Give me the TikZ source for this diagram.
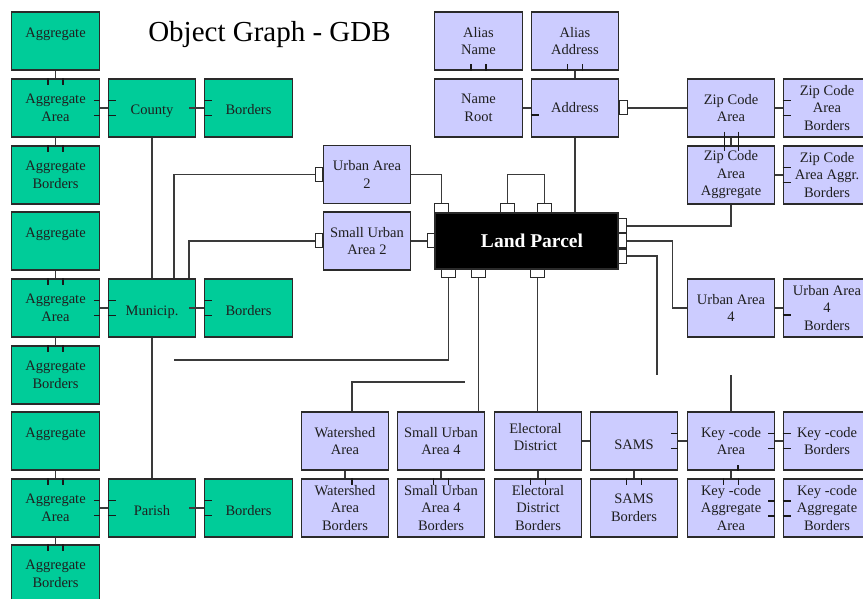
\documentclass[tikz,border=0pt]{standalone}
\usepackage{fontspec}
\setmainfont{Liberation Serif}
\usetikzlibrary{calc}
\definecolor{grn}{HTML}{00CC99}
\definecolor{lav}{HTML}{CCCCFF}
\definecolor{edge}{HTML}{2A2A2A}
\definecolor{wire}{HTML}{3A3A3A}
\tikzset{
  box/.style={draw=edge, line width=1.3pt, minimum width=87.5pt, minimum height=58pt,
    align=center, inner sep=0pt, text=black!88, font=\fontsize{14.5}{17.5}\selectfont},
  gbox/.style={box, fill=grn},
  lbox/.style={box, fill=lav},
  low/.style={text height=14pt, text depth=0pt},
  conn/.style={draw=wire, line width=1.2pt},
  tickst/.style={draw=black!90, line width=1.1pt},
  portst/.style={draw=edge, line width=1pt, fill=white},
}
\newcommand\vlnk[2]{%
  \draw[conn] (#1.south) -- (#2.north);
  \draw[tickst] ($(#2.north)+(-7.5,0)$) -- ++(0,7) ($(#2.north)+(7.5,0)$) -- ++(0,7);}
\newcommand\hlnk[2]{%
  \draw[conn] (#1.east) -- (#2.west);
  \draw[tickst] ($(#1.east)+(-6,-7.5)$) -- ++(6,0) ($(#1.east)+(-6,7.5)$) -- ++(6,0)
    ($(#2.west)+(0,-7.5)$) -- ++(8,0) ($(#2.west)+(0,7.5)$) -- ++(8,0);}
\newcommand\blnk[2]{%
  \draw[conn] ($(#1.east)+(-7,0)$) -- (#2.west);
  \draw[tickst] ($(#2.west)+(0,-7.5)$) -- ++(8,0) ($(#2.west)+(0,7.5)$) -- ++(8,0);}
\newcommand\portT[1]{\draw[portst] ($(#1)+(-7,-9)$) rectangle ($(#1)+(7,0)$);}
\newcommand\portB[1]{\draw[portst] ($(#1)+(-7,0)$) rectangle ($(#1)+(7,8)$);}
\newcommand\portL[1]{\draw[portst] ($(#1)+(-7,-7)$) rectangle ($(#1)+(0,7)$);}
\newcommand\portR[1]{\draw[portst] ($(#1)+(0,-7)$) rectangle ($(#1)+(8,7)$);}
\begin{document}
\begin{tikzpicture}[x=1pt,y=-1pt]
\useasboundingbox (0,0) rectangle (863,599);
\clip (0,0) rectangle (863,599);
\fill[white] (0,0) rectangle (863,599);

\node[font=\fontsize{29}{34}\selectfont, anchor=base, text=black] (title) at (269.5,42) {Object Graph - GDB};

% green column
\node[gbox] (ag1)  at (55.5,41)  {Aggregate\\\mbox{}};
\node[gbox] (ag1a) at (55.5,108) {Aggregate\\Area};
\node[gbox] (ag1b) at (55.5,175) {Aggregate\\Borders};
\node[gbox] (ag2)  at (55.5,241) {Aggregate\\\mbox{}};
\node[gbox] (ag2a) at (55.5,308) {Aggregate\\Area};
\node[gbox] (ag2b) at (55.5,375) {Aggregate\\Borders};
\node[gbox] (ag3)  at (55.5,441) {Aggregate\\\mbox{}};
\node[gbox] (ag3a) at (55.5,508) {Aggregate\\Area};
\node[gbox] (ag3b) at (55.5,574) {Aggregate\\Borders};
\node[gbox,low] (county) at (152,108) {County};
\node[gbox,low] (cb1)    at (248.5,108) {Borders};
\node[gbox,low] (munic)  at (152,308) {Municip.};
\node[gbox,low] (cb2)    at (248.5,308) {Borders};
\node[gbox,low] (parish) at (152,508) {Parish};
\node[gbox,low] (cb3)    at (248.5,508) {Borders};

% lavender
\node[lbox] (aliasn) at (478.5,41) {Alias\\Name};
\node[lbox] (aliasa) at (575,41) {Alias\\Address};
\node[lbox] (nroot)  at (478.5,108) {Name\\Root};
\node[lbox] (addr)   at (575,108) {Address};
\node[lbox] (ua2)    at (367,174.5) {Urban Area\\2};
\node[lbox] (sua2)   at (367,241) {Small Urban\\Area 2};
\node[draw=edge, line width=1.3pt, fill=black, minimum width=183pt, minimum height=56pt,
  text=white, font=\bfseries\fontsize{19.5}{22}\selectfont] (lp) at (526.5,241) {\hspace*{11pt}Land Parcel};
\node[lbox] (zca)   at (731,108) {Zip Code\\Area};
\node[lbox] (zcab)  at (827,108) {Zip Code\\Area\\Borders};
\node[lbox] (zcaa)  at (731,175) {Zip Code\\Area\\Aggregate};
\node[lbox] (zcaab) at (827,175) {Zip Code\\Area Aggr.\\Borders};
\node[lbox] (ua4)   at (731,308) {Urban Area\\4};
\node[lbox] (ua4b)  at (827,308) {Urban Area\\4\\Borders};
\node[lbox] (ws)    at (345,441) {Watershed\\Area};
\node[lbox] (wsb)   at (345,508) {Watershed\\Area\\Borders};
\node[lbox] (sua4)  at (441,441) {Small Urban\\Area 4};
\node[lbox] (sua4b) at (441,508) {Small Urban\\Area 4\\Borders};
\node[lbox,text depth=8.5pt] (ed)    at (538,441) {Electoral\hspace*{5pt}\\District\hspace*{5pt}};
\node[lbox] (edb)   at (538,508) {Electoral\\District\\Borders};
\node[lbox,text height=16pt,text depth=0pt] (sams)  at (634,441) {SAMS};
\node[lbox] (samsb) at (634,508) {SAMS\\Borders};
\node[lbox] (kca)   at (731,441) {Key -code\\Area};
\node[lbox] (kcb)   at (827,441) {Key -code\\Borders};
\node[lbox] (kcaa)  at (731,508) {Key -code\\Aggregate\\Area};
\node[lbox] (kcab)  at (827,508) {Key -code\\Aggregate\\Borders};

% green links
\vlnk{ag1}{ag1a} \vlnk{ag1a}{ag1b}
\vlnk{ag2}{ag2a} \vlnk{ag2a}{ag2b}
\vlnk{ag3}{ag3a} \vlnk{ag3a}{ag3b}
\hlnk{ag1a}{county} \hlnk{ag2a}{munic} \hlnk{ag3a}{parish}
\blnk{county}{cb1} \blnk{munic}{cb2} \blnk{parish}{cb3}
\draw[conn] (county.south) -- (munic.north);
\draw[conn] (munic.south) -- (parish.north);

% upper lavender links
\draw[tickst] ($(aliasn.south)+(-7.5,0)$) -- ++(0,-7) ($(aliasn.south)+(7.5,0)$) -- ++(0,-7);
\draw[conn] (aliasa.south) -- (addr.north);
\draw[tickst] ($(aliasa.south)+(-7.5,0)$) -- ++(0,-7) ($(aliasa.south)+(7.5,0)$) -- ++(0,-7);
\draw[conn] (nroot.east) -- (addr.west);
\draw[tickst] ($(addr.west)+(0,7)$) -- ++(8,0);
\draw[conn] ($(addr.east)+(8,0)$) -- (zca.west);
\draw[conn] (zca.east) -- (zcab.west);
\draw[tickst] ($(zcab.west)+(0,-7.5)$) -- ++(8,0) ($(zcab.west)+(0,7.5)$) -- ++(8,0);
\draw[conn] (zca.south) -- (zcaa.north);
\draw[tickst, line width=0.9pt] ($(zca.south)+(-7,-6)$) -- ($(zcaa.north)+(-7,6)$) ($(zca.south)+(7,-6)$) -- ($(zcaa.north)+(7,6)$);
\draw[conn] (zcaa.east) -- (zcaab.west);
\draw[tickst] ($(zcaab.west)+(0,-7.5)$) -- ++(8,0) ($(zcaab.west)+(0,7.5)$) -- ++(8,0);
\draw[conn] (ua4.east) -- (ua4b.west);
\draw[tickst] ($(ua4b.west)+(0,7)$) -- ++(8,0);
\draw[conn] (addr.south) -- (addr.south |- lp.north);

% bottom row links
\draw[conn] (ws.south) -- (wsb.north);
\draw[tickst] ($(wsb.north)+(7,0)$) -- ++(0,7);
\vlnk{sua4}{sua4b}
\vlnk{ed}{edb}
\vlnk{sams}{samsb}
\draw[conn] (ed.east) -- (sams.west);
\draw[conn] (sams.east) -- (kca.west);
\draw[tickst] ($(sams.east)+(-7,-7.5)$) -- ++(7,0) ($(sams.east)+(-7,7.5)$) -- ++(7,0);
\draw[conn] (kca.east) -- (kcb.west);
\draw[tickst] ($(kca.east)+(-7,-7.5)$) -- ++(7,0) ($(kca.east)+(-7,7.5)$) -- ++(7,0)
  ($(kcb.west)+(0,-7.5)$) -- ++(8,0) ($(kcb.west)+(0,7.5)$) -- ++(8,0);
\vlnk{kca}{kcaa}
\draw[tickst] ($(kca.south)+(7,0)$) -- ++(0,-6);
\draw[tickst] ($(kcaa.east)+(-7,-7)$) -- ++(7,0) ($(kcaa.east)+(-7,8)$) -- ++(7,0)
  ($(kcab.west)+(0,-7)$) -- ++(8,0) ($(kcab.west)+(0,8)$) -- ++(8,0);

% land parcel ports
\coordinate (lt1) at ($(lp.north west)+(7,0)$);
\coordinate (lt2) at ($(lp.north west)+(73,0)$);
\coordinate (lt3) at ($(lp.north west)+(110,0)$);
\coordinate (lb1) at ($(lp.south west)+(14,0)$);
\coordinate (lb2) at ($(lp.south west)+(44,0)$);
\coordinate (lb3) at ($(lp.south west)+(103,0)$);
\coordinate (lr1) at ($(lp.east)+(0,-15)$);
\coordinate (lr2) at (lp.east);
\coordinate (lr3) at ($(lp.east)+(0,15)$);
\coordinate (ll)  at (lp.west);
\coordinate (e1) at (174,360);
\coordinate (e2) at (657,375);
\coordinate (e3) at (731,375);
\coordinate (e4) at (465,382);

\draw[conn] (ua2.east) -| ($(lt1)+(0,-9)$);
\draw[conn] ($(lt2)+(0,-9)$) -- ++(0,-29) -| ($(lt3)+(0,-9)$);
\draw[conn] (sua2.east) -- ($(ll)+(-7,0)$);
\draw[conn] ($(munic.north)+(22,0)$) |- ($(ua2.west)+(-7,0)$);
\draw[conn] ($(munic.north)+(37,0)$) |- ($(sua2.west)+(-7,0)$);
\draw[conn] ($(lb1)+(0,8)$) |- (e1);
\draw[conn] ($(lb2)+(0,8)$) -- (lb2 |- sua4.north);
\draw[conn] ($(lb3)+(0,8)$) -- (lb3 |- ed.north);
\draw[conn] ($(lr1)+(8,0)$) -| (zcaa.south);
\draw[conn] ($(lr2)+(8,0)$) -- ++(46,0) |- (ua4.west);
\draw[conn] ($(lr3)+(8,0)$) -| (e2);
\draw[conn] (e3) -- (kca.north);
\draw[conn] ($(ws.north)+(7,0)$) |- (e4);

\portL{ua2.west} \portL{sua2.west} \portL{ll}
\portT{lt1} \portT{lt2} \portT{lt3}
\portB{lb1} \portB{lb2} \portB{lb3}
\portR{lr1} \portR{lr2} \portR{lr3}
\portR{addr.east}
\end{tikzpicture}
\end{document}
